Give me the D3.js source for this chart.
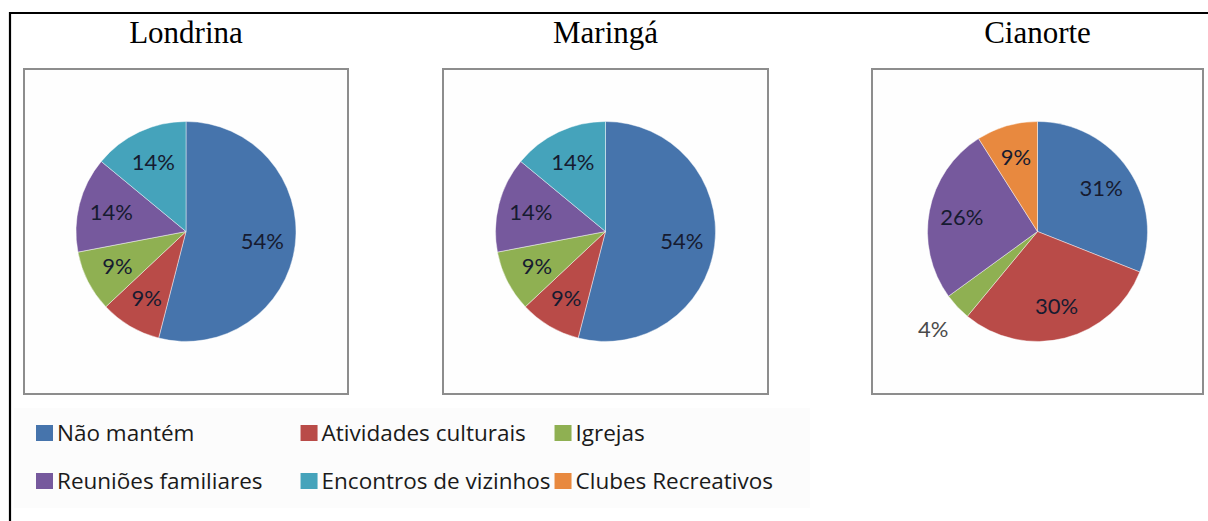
<!DOCTYPE html>
<html>
<head>
<meta charset="utf-8">
<script src="https://cdn.jsdelivr.net/npm/d3@7"></script>
<style>
  html, body { margin: 0; padding: 0; background: #ffffff; }
  svg { display: block; }
</style>
</head>
<body>
<svg id="chart" width="1208" height="521"></svg>
<script>
// Share of respondents by type of social activity, per city
const cities = ["Londrina", "Maringá", "Cianorte"];
const categories = ["Não mantém", "Atividades culturais", "Igrejas",
                    "Reuniões familiares", "Encontros de vizinhos", "Clubes Recreativos"];
const londrinaValues = [54, 9, 9, 14, 14, 0];
const maringaValues  = [54, 9, 9, 14, 14, 0];
const cianorteValues = [31, 30, 4, 26, 0, 9];
const seriesByCity = [londrinaValues, maringaValues, cianorteValues];
const palette = ["#4674ac", "#b94b48", "#8fb052", "#76599d", "#45a3bb", "#e8893f"];

// Panel frames (left edge, width) and shared vertical extent
const panels = [
  { x: 24,  w: 324 },
  { x: 443, w: 325 },
  { x: 872, w: 331 }
];
const panelTop = 69, panelH = 325, radius = 110;

const svg = d3.select("#chart");

// Outer page frame: top and left rules
svg.append("line").attr("x1", 10).attr("x2", 1208).attr("y1", 13).attr("y2", 13)
  .attr("stroke", "#000").attr("stroke-width", 2.2);
svg.append("line").attr("x1", 10).attr("x2", 10).attr("y1", 12).attr("y2", 521)
  .attr("stroke", "#000").attr("stroke-width", 2.2);

const color = d3.scaleOrdinal().domain(categories).range(palette);
const pie = d3.pie().sort(null).value(d => d.value);
const arc = d3.arc().innerRadius(0).outerRadius(radius);
const labelArc = d3.arc().innerRadius(radius * 0.7).outerRadius(radius * 0.7);
const outerLabelArc = d3.arc().innerRadius(radius * 1.3).outerRadius(radius * 1.3);

cities.forEach((city, i) => {
  const p = panels[i];
  const cx = p.x + p.w / 2;
  const cy = panelTop + panelH / 2;

  // City title
  svg.append("text")
    .attr("x", cx).attr("y", 43)
    .attr("text-anchor", "middle")
    .attr("font-family", "'Liberation Serif', 'Times New Roman', serif")
    .attr("font-size", 31)
    .attr("fill", "#000")
    .text(city);

  // Chart area frame
  svg.append("rect")
    .attr("x", p.x).attr("y", panelTop)
    .attr("width", p.w).attr("height", panelH)
    .attr("fill", "#fefefe")
    .attr("stroke", "#8d8d8d").attr("stroke-width", 2);

  const data = categories.map((c, k) => ({ cat: c, value: seriesByCity[i][k] }))
    .filter(d => d.value > 0);
  const arcs = pie(data);

  const g = svg.append("g").attr("transform", `translate(${cx},${cy})`);

  g.selectAll("path").data(arcs).join("path")
    .attr("d", arc)
    .attr("fill", d => color(d.data.cat))
    .attr("stroke", "rgba(255,255,255,0.55)")
    .attr("stroke-width", 0.8);

  g.selectAll("text.lbl").data(arcs).join("text")
    .attr("class", "lbl")
    .attr("transform", d => {
      const pos = d.data.value < 5 ? outerLabelArc.centroid(d) : labelArc.centroid(d);
      return `translate(${pos[0]},${pos[1]})`;
    })
    .attr("text-anchor", "middle")
    .attr("dy", "0.36em")
    .attr("font-family", "Lato, 'Open Sans', sans-serif")
    .attr("font-size", 22)
    .attr("fill", d => d.data.value < 5 ? "#4a4a4a" : "#161b30")
    .text(d => d.data.value + "%");
});

// Legend: two rows laid out on a shared column grid
const legendRows = [categories.slice(0, 3), categories.slice(3, 6)];
const legend = svg.append("g");
legend.append("rect")
  .attr("x", 14).attr("y", 408).attr("width", 796).attr("height", 100)
  .attr("fill", "#fcfcfc");

const legendFont = "'Open Sans', Lato, sans-serif";
const legendSize = 22.5;
const rowY = [433, 481];
const sw = 17, swGap = 4, colGap = 38;

// measure label widths to build the column grid
const measure = legend.append("text")
  .attr("font-family", legendFont).attr("font-size", legendSize);
const widthOf = s => { measure.text(s); return measure.node().getComputedTextLength(); };
const colWidths = [0, 1, 2].map(c => d3.max(legendRows, row => widthOf(row[c])));
measure.remove();
const colX = [36];
colX.push(colX[0] + sw + swGap + colWidths[0] + colGap);
colX.push(colX[1] + sw + swGap + colWidths[1] + 4);

legendRows.forEach((row, r) => {
  row.forEach((cat, c) => {
    legend.append("rect")
      .attr("x", colX[c]).attr("y", rowY[r] - 8)
      .attr("width", sw).attr("height", 16)
      .attr("fill", color(cat));
    legend.append("text")
      .attr("x", colX[c] + sw + swGap).attr("y", rowY[r])
      .attr("dy", "0.35em")
      .attr("font-family", legendFont)
      .attr("font-size", legendSize)
      .attr("fill", "#1a1a1a")
      .text(cat);
  });
});
</script>
</body>
</html>
